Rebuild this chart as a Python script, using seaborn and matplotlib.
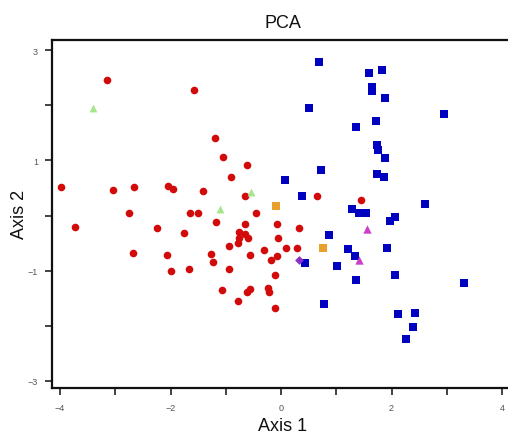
import matplotlib
matplotlib.use("Agg")
import matplotlib.pyplot as plt
import seaborn as sns
import pandas as pd
from matplotlib.ticker import FixedLocator

# ---- data ----
red_x = [-3.15, -1.58, -1.20, -1.05, -0.62, -0.90, -3.99, -3.04, -2.66, -2.05, -1.95, -1.41,
         -0.65, -2.76, -1.65, -1.51, -0.45, -3.73, -2.24, -1.76, -1.18, -0.65, -0.07, -0.76,
         -0.65, -0.76, -0.59, -0.78, -0.06, -0.95, -2.67, -2.07, -1.26, -1.23, -0.56, -0.31,
         -0.19, -0.07, -1.99, -1.67, -0.95, -0.11, -1.06, -0.62, -0.56, -0.23, -0.21, -0.77,
         -0.11, 0.65, 1.44, 0.32, 0.09, 0.29]
red_y = [2.46, 2.27, 1.41, 1.07, 0.91, 0.70, 0.51, 0.47, 0.51, 0.54, 0.49, 0.44,
         0.36, 0.04, 0.04, 0.04, 0.04, -0.20, -0.23, -0.31, -0.12, -0.16, -0.16, -0.30,
         -0.33, -0.41, -0.41, -0.50, -0.41, -0.56, -0.68, -0.71, -0.69, -0.84, -0.71, -0.62,
         -0.81, -0.74, -1.00, -0.97, -0.97, -1.08, -1.35, -1.38, -1.33, -1.31, -1.39, -1.55,
         -1.67, 0.35, 0.28, -0.23, -0.58, -0.58]

blue_x = [0.73, 1.73, 1.87, 0.07, 0.38, 2.60, 1.28, 1.42, 1.53, 2.07, 1.98, 0.86, 0.43,
          1.22, 1.34, 1.01, 1.92, 1.35, 2.06, 3.31, 0.78, 2.11, 2.42, 2.38, 2.26, 0.68,
          1.60, 1.83, 1.65, 1.65, 1.88, 0.50, 2.95, 1.72, 1.35, 1.73, 1.75, 1.88]
blue_y = [0.82, 0.76, 0.70, 0.65, 0.36, 0.21, 0.11, 0.04, 0.04, -0.03, -0.10, -0.35, -0.86,
          -0.61, -0.74, -0.91, -0.59, -1.17, -1.07, -1.22, -1.61, -1.79, -1.76, -2.02, -2.24, 2.78,
          2.58, 2.64, 2.33, 2.26, 2.13, 1.95, 1.84, 1.72, 1.61, 1.28, 1.19, 1.05]

green_x = [-3.41, -0.54, -1.11]
green_y = [1.96, 0.43, 0.12]

orange_x = [-0.09, 0.76]
orange_y = [0.17, -0.59]

magenta_x = [1.55, 1.41]
magenta_y = [-0.24, -0.81]

purple_x = [0.33]
purple_y = [-0.81]

groups = ["red", "blue", "green", "orange", "magenta", "purple"]
colors = {"red": "#d20a0a", "blue": "#0000c0", "green": "#a6e68c",
          "orange": "#e8a02c", "magenta": "#cc3fcc", "purple": "#8a2fc8"}
markers = {"red": "o", "blue": "s", "green": "^", "orange": "s",
           "magenta": "^", "purple": "D"}
sizes = {"red": 30, "blue": 30, "green": 32, "orange": 30, "magenta": 36, "purple": 20}

xs = [red_x, blue_x, green_x, orange_x, magenta_x, purple_x]
ys = [red_y, blue_y, green_y, orange_y, magenta_y, purple_y]

frames = []
for g, x, y in zip(groups, xs, ys):
    frames.append(pd.DataFrame({"Axis 1": x, "Axis 2": y, "group": g}))
df = pd.concat(frames, ignore_index=True)

sns.set_style("white")
plt.rcParams["font.family"] = ["Liberation Sans", "DejaVu Sans"]

fig = plt.figure(figsize=(5.08, 4.39), dpi=100)
ax_w = 1 - 52 / 508 + 0.01
ax = fig.add_axes([52 / 508, (439 - 388.5) / 439, ax_w, (388.5 - 41) / 439])

for g in groups:
    sub = df[df["group"] == g]
    sns.scatterplot(data=sub, x="Axis 1", y="Axis 2", color=colors[g], marker=markers[g],
                    s=sizes[g], linewidth=0, ax=ax, legend=False)

ax.set_xlim(-4.145, 4.2)
ax.set_ylim(-3.12, 3.185)

ax.xaxis.set_major_locator(FixedLocator([-4, -2, 0, 2, 4]))
ax.xaxis.set_minor_locator(FixedLocator([-3, -1, 1, 3]))
ax.yaxis.set_major_locator(FixedLocator([-3, -1, 1, 3]))
ax.yaxis.set_minor_locator(FixedLocator([-2, 0, 2]))

ax.tick_params(axis="both", which="both", direction="out", length=5, width=1.2,
               color="#222222", labelsize=6.5, labelcolor="#555555", bottom=True, left=True)
ax.tick_params(axis="x", which="major", pad=6)
ax.tick_params(axis="y", which="major", pad=5)

for side in ["left", "bottom", "top"]:
    ax.spines[side].set_color("#111111")
    ax.spines[side].set_linewidth(1.6)
ax.spines["right"].set_visible(False)

ax.set_xlabel("Axis 1", fontsize=13, labelpad=4, color="#111111")
ax.set_ylabel("Axis 2", fontsize=13, color="#111111")
ax.yaxis.set_label_coords(-(52 - 28) / (ax_w * 508), 0.5)
ax.set_title("PCA", fontsize=13, pad=9, color="#111111")

fig.savefig("out.png", dpi=100)
